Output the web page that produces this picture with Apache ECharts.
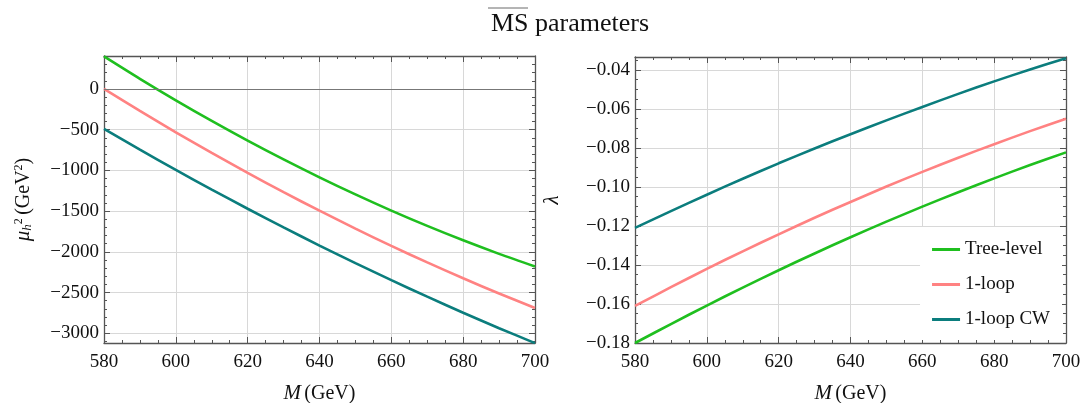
<!DOCTYPE html>
<html>
<head>
<meta charset="utf-8">
<title>MS parameters</title>
<script src="https://cdn.jsdelivr.net/npm/echarts@6/dist/echarts.min.js"></script>
<style>
  html, body { margin: 0; padding: 0; background: #fff; }
  #chart { width: 1080px; height: 403px; }
</style>
</head>
<body>
<div id="chart"></div>
<script>
// MS-bar parameters vs M — two panels

const mass = [580, 590, 600, 610, 620, 630, 640, 650, 660, 670, 680, 690, 700];

// mu_h^2 (GeV^2)
const muTree   = [400, 125, -139, -392, -634, -865, -1085, -1295, -1494, -1682, -1859, -2025, -2180];
const muLoop   = [0, -270, -532, -785, -1030, -1267, -1495, -1715, -1927, -2130, -2325, -2512, -2690];
const muLoopCW = [-490, -745, -994, -1236, -1471, -1700, -1923, -2139, -2348, -2551, -2748, -2938, -3121];

// lambda
const lamTree   = [-0.1800, -0.1703, -0.1608, -0.1516, -0.1427, -0.1341, -0.1258, -0.1178, -0.1101, -0.1027, -0.0956, -0.0888, -0.0823];
const lamLoop   = [-0.1610, -0.1514, -0.1420, -0.1330, -0.1243, -0.1158, -0.1077, -0.0998, -0.0923, -0.0850, -0.0781, -0.0714, -0.0650];
const lamLoopCW = [-0.1210, -0.1124, -0.1040, -0.0958, -0.0879, -0.0803, -0.0730, -0.0659, -0.0590, -0.0523, -0.0459, -0.0398, -0.0340];

const seriesNames = ['Tree-level', '1-loop', '1-loop CW'];
const colors = ['#1fbf1f', '#ff8282', '#0b7d7d'];

// tick labels
const xTicks = [580, 600, 620, 640, 660, 680, 700];
const muTicks = [-3000, -2500, -2000, -1500, -1000, -500, 0];
const lamTicks = [-0.18, -0.16, -0.14, -0.12, -0.10, -0.08, -0.06, -0.04];

function steps(a, b, d) {
  const out = [];
  for (let v = a; v <= b + d / 1000; v += d) out.push(+v.toFixed(4));
  return out;
}
const xMinor = steps(580, 700, 5);
const muMinor = steps(-3100, 400, 100);
const lamMinor = steps(-0.18, -0.035, 0.005);

const SERIF = 'Liberation Serif';
const FRAME = '#555';

function minus(s) { return String(s).replace('-', '\u2212'); }

// one side of the frame: major axis + minor-tick axis
function frameAxes(dim, grid, min, max, majors, minors, sides, fmt) {
  const out = [];
  sides.forEach((pos, k) => {
    const main = k === 0;
    out.push({
      type: 'value', gridIndex: grid, position: pos, min, max,
      axisLine: { show: true, onZero: false, lineStyle: { color: FRAME, width: 1.3 } },
      axisTick: { show: true, inside: true, length: 6, customValues: majors, lineStyle: { color: FRAME } },
      axisLabel: main ? {
        show: true, customValues: majors, formatter: fmt, margin: dim === 'x' ? 10 : 5,
        color: '#111', fontFamily: SERIF, fontSize: 19
      } : { show: false },
      splitLine: { show: main, lineStyle: { color: '#d8d8d8', width: 1 } }
    });
    out.push({
      type: 'value', gridIndex: grid, position: pos, min, max,
      axisLine: { show: false, onZero: false },
      axisTick: { show: true, inside: true, length: 3, customValues: minors, lineStyle: { color: FRAME } },
      axisLabel: { show: false },
      splitLine: { show: false }
    });
  });
  return out;
}

const xAxes = [
  ...frameAxes('x', 0, 580, 700, xTicks, xMinor, ['bottom', 'top'], v => v),
  ...frameAxes('x', 1, 580, 700, xTicks, xMinor, ['bottom', 'top'], v => v)
];
const yAxes = [
  ...frameAxes('y', 0, -3120, 405, muTicks, muMinor, ['left', 'right'], v => minus(v)),
  ...frameAxes('y', 1, -0.18, -0.0334, lamTicks, lamMinor, ['left', 'right'], v => minus(v.toFixed(2)))
];

const nameRich = {
  i: { fontFamily: SERIF, fontStyle: 'italic', fontSize: 21, color: '#111' },
  t: { fontFamily: SERIF, fontSize: 20, color: '#111' },
  sub: { fontFamily: SERIF, fontStyle: 'italic', fontSize: 13, color: '#111', verticalAlign: 'bottom', padding: [8, 0, 0, 0] },
  sup: { fontFamily: SERIF, fontSize: 12, color: '#111', verticalAlign: 'top', padding: [0, 0, 8, 0] }
};

xAxes[0].name = '{i|M} {t|(GeV)}';
xAxes[4].name = '{i|M} {t|(GeV)}';
[0, 4].forEach(i => Object.assign(xAxes[i], { nameLocation: 'middle', nameGap: 40, nameTextStyle: { rich: nameRich } }));
yAxes[0].name = '{i|\u03bc}{sub|h}{sup|2} {t|(GeV}{sup|2}{t|)}';
yAxes[4].name = '{i|\u03bb}';
Object.assign(yAxes[0], { nameLocation: 'middle', nameGap: 70, nameTextStyle: { rich: nameRich } });
Object.assign(yAxes[4], { nameLocation: 'middle', nameGap: 72, nameTextStyle: { rich: nameRich } });

function pairs(ys) { return mass.map((m, i) => [m, ys[i]]); }

function line(name, idx, grid, ys) {
  return {
    name, type: 'line', xAxisIndex: grid * 4, yAxisIndex: grid * 4,
    data: pairs(ys), smooth: 0.3, symbol: 'none', clip: true,
    lineStyle: { color: colors[idx], width: 2.6 },
    itemStyle: { color: colors[idx] }
  };
}

const series = [
  line(seriesNames[0], 0, 0, muTree),
  line(seriesNames[1], 1, 0, muLoop),
  line(seriesNames[2], 2, 0, muLoopCW),
  line(seriesNames[0], 0, 1, lamTree),
  line(seriesNames[1], 1, 1, lamLoop),
  line(seriesNames[2], 2, 1, lamLoopCW)
];
// zero reference line on the left panel
series[0].markLine = {
  silent: true, symbol: 'none', label: { show: false },
  lineStyle: { color: '#777', width: 1, type: 'solid' },
  data: [{ yAxis: 0 }]
};

const chart = echarts.init(document.getElementById('chart'), null, { renderer: 'canvas' });
chart.setOption({
  animation: false,
  backgroundColor: '#fff',
  title: {
    text: 'MS parameters', left: 486, top: 6,
    textStyle: { fontFamily: SERIF, fontWeight: 'normal', fontSize: 26, color: '#111' }
  },
  graphic: [{
    type: 'line', shape: { x1: 488, y1: 8, x2: 528, y2: 8 },
    style: { stroke: '#444', lineWidth: 0.8 }
  }],
  grid: [
    { left: 104, top: 56, width: 431, height: 287, outerBoundsMode: 'none' },
    { left: 635, top: 57, width: 431, height: 286, outerBoundsMode: 'none' }
  ],
  legend: {
    data: seriesNames, orient: 'vertical', right: 18, bottom: 63,
    backgroundColor: '#fff', padding: [12, 12, 10, 12], itemGap: 14,
    icon: 'rect', itemWidth: 28, itemHeight: 3,
    textStyle: { fontFamily: SERIF, fontSize: 19, color: '#111', lineHeight: 21 }
  },
  xAxis: xAxes,
  yAxis: yAxes,
  series
});
window.addEventListener('resize', () => chart.resize());
</script>
</body>
</html>
